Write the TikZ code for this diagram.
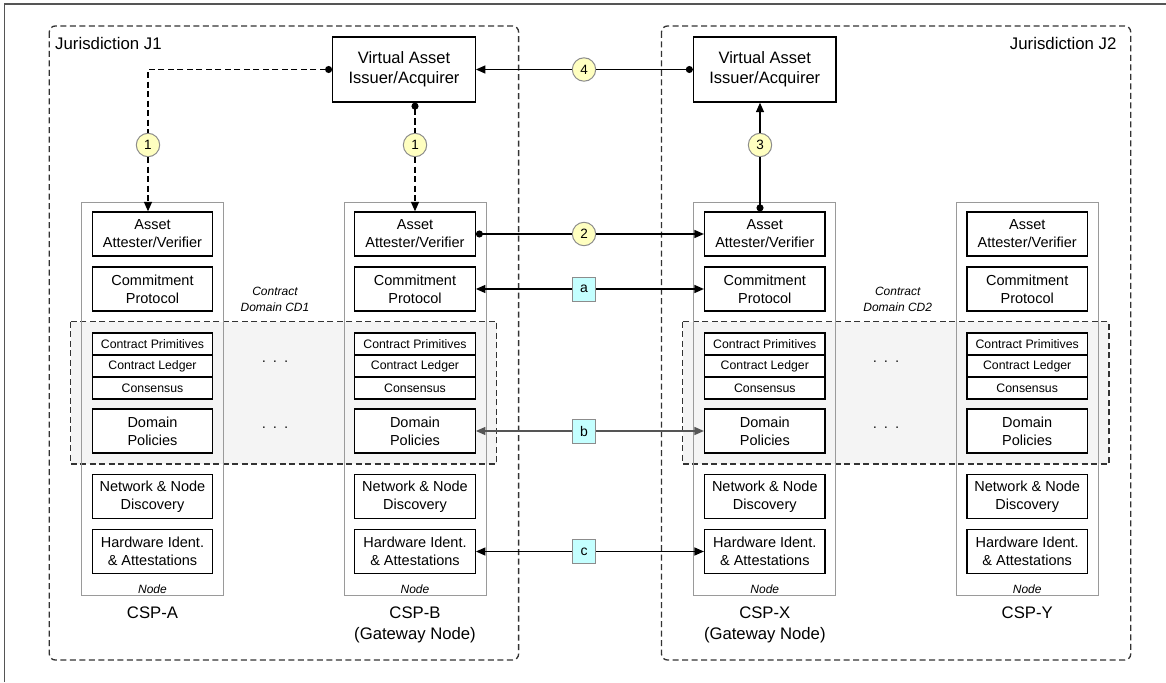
\documentclass[tikz,border=0pt]{standalone}
\usepackage{fontspec}
\setmainfont{Liberation Sans}
\usetikzlibrary{arrows.meta}
\definecolor{circfill}{HTML}{FFFFC0}
\definecolor{labfill}{HTML}{C4FFFF}
\definecolor{edgegray}{HTML}{8C8C8C}
\definecolor{cdfill}{HTML}{F4F4F4}
\definecolor{dashcol}{HTML}{333333}
\definecolor{colgray}{HTML}{9A9A9A}
\definecolor{bgray}{HTML}{555555}
\definecolor{framecol}{HTML}{555555}
\newcommand\fsz[2]{\fontsize{#1}{#2}\selectfont}
\begin{document}
\begin{tikzpicture}[x=1pt,y=-1pt,
  ibox/.style={draw=black, line width=1.3pt, fill=white, minimum width=120.5pt, minimum height=44pt, inner sep=0pt, align=center, font=\fsz{14.5}{18}},
  rbox/.style={ibox, minimum height=22pt, font=\fsz{12.3}{14}},
  vabox/.style={draw=black, line width=1.3pt, fill=white, minimum width=142.5pt, minimum height=65pt, inner sep=0pt, align=center, font=\fsz{16.5}{20}},
  colbox/.style={draw=colgray, line width=1pt, minimum width=142pt, minimum height=393pt, inner sep=0pt},
  nodelbl/.style={font=\fsz{12}{14}\itshape, inner sep=0pt},
  csplbl/.style={font=\fsz{16.7}{21}, align=center, anchor=north, inner sep=0pt},
  circ/.style={circle, draw=edgegray, line width=1pt, fill=circfill, minimum size=23.4pt, inner sep=0pt, font=\fsz{13.5}{14}},
  lab/.style={rectangle, draw=edgegray, line width=1pt, fill=labfill, minimum width=23pt, minimum height=24pt, inner sep=0pt, font=\fsz{14}{14}},
  dashbox/.style={draw=dashcol, line width=1.3pt, dash pattern=on 6pt off 3.5pt},
  conn/.style={line width=1.3pt, draw=black},
  tip/.style={-{Triangle[length=9.5pt,width=8pt]}},
  dotstart/.style={{Circle[length=7pt]}-},
  ddash/.style={dash pattern=on 6pt off 3.5pt},
  dotsfont/.style={font=\fsz{14}{14}, inner sep=0pt},
  cdlbl/.style={font=\fsz{12}{15.3}\itshape, align=center, inner sep=0pt},
  jlbl/.style={font=\fsz{16.8}{20}, inner sep=0pt}
]
\useasboundingbox (0,0) rectangle (1166,682);
% outer frame (top and left edges visible)
\draw[framecol, line width=1.5pt] (4.5,682) -- (4.5,4) -- (1166,4);

% jurisdictions
\draw[dashbox, rounded corners=6pt] (49.3,26) rectangle (518.6,660);
\draw[dashbox, rounded corners=6pt] (661.5,26) rectangle (1130.7,660);
\node[jlbl, anchor=west] (j1) at (55,43.3) {Jurisdiction J1};
\node[jlbl, anchor=east] (j2) at (1116.6,43.3) {Jurisdiction J2};

% contract domains
\draw[dashbox, fill=cdfill] (70.7,321.7) rectangle (496.7,464);
\draw[dashbox, fill=cdfill] (682.7,321.7) rectangle (1109,464);
\node[cdlbl] (cd1) at (275,299.3) {Contract\\Domain CD1};
\node[cdlbl] (cd2) at (897.7,299.3) {Contract\\Domain CD2};
\node[dotsfont] (d1) at (275,363) {·\hspace{6.5pt}·\hspace{6.5pt}·};
\node[dotsfont] (d2) at (275,429) {·\hspace{6.5pt}·\hspace{6.5pt}·};
\node[dotsfont] (d3) at (886,363) {·\hspace{6.5pt}·\hspace{6.5pt}·};
\node[dotsfont] (d4) at (886,429) {·\hspace{6.5pt}·\hspace{6.5pt}·};

% columns
\foreach \c/\cx/\lbl in {A/152.5/{CSP-A}, B/415/{CSP-B\\(Gateway Node)}, X/764.8/{CSP-X\\(Gateway Node)}, Y/1027.2/{CSP-Y}} {
  \node[colbox] (\c col) at (\cx,398.5) {};
  \node[ibox] (\c1) at (\cx,234) {Asset\\Attester/Verifier};
  \node[ibox] (\c2) at (\cx,289) {Commitment\\Protocol};
  \node[rbox] (\c3) at (\cx,344) {Contract Primitives};
  \node[rbox] (\c4) at (\cx,366) {Contract Ledger};
  \node[rbox] (\c5) at (\cx,388) {Consensus};
  \node[ibox] (\c6) at (\cx,431) {Domain\\Policies};
  \node[ibox] (\c7) at (\cx,496.5) {Network \& Node\\Discovery};
  \node[ibox] (\c8) at (\cx,551.5) {Hardware Ident.\\\& Attestations};
  \node[nodelbl] (\c9) at (\cx,589) {Node};
  \node[csplbl] (\c lbl) at (\cx,606.3) {\lbl};
}

% virtual asset issuers
\node[vabox] (VAL) at (404,69.5) {Virtual Asset\\Issuer/Acquirer};
\node[vabox] (VAR) at (764.75,69.5) {Virtual Asset\\Issuer/Acquirer};

% step markers
\node[circ] (n1a) at (148,145) {1};
\node[circ] (n1b) at (415,145) {1};
\node[circ] (n2) at (584,234) {2};
\node[circ] (n3) at (760,145) {3};
\node[circ] (n4) at (584,69.5) {4};
\node[lab] (la) at (584,289) {a};
\node[lab] (lb) at (584,431) {b};
\node[lab] (lc) at (584,551.5) {c};

% connectors
\draw[conn, ddash, dotstart] (VAL.west) -| (n1a.north);
\draw[conn, ddash, tip] (n1a.south) -- (A1.north -| n1a);
\draw[conn, ddash, dotstart] (VAL.south -| n1b) -- (n1b.north);
\draw[conn, ddash, tip] (n1b.south) -- (B1.north);
\draw[conn, dotstart] (B1.east) -- (n2.west);
\draw[conn, tip] (n2.east) -- (X1.west);
\draw[conn, dotstart] (X1.north -| n3) -- (n3.south);
\draw[conn, tip] (n3.north) -- (VAR.south -| n3);
\draw[conn, dotstart] (VAR.west) -- (n4.east);
\draw[conn, tip] (n4.west) -- (VAL.east);
\draw[conn, tip] (la.west) -- (B2.east);
\draw[conn, tip] (la.east) -- (X2.west);
\draw[conn, draw=bgray, tip, bgray] (lb.west) -- (B6.east);
\draw[conn, draw=bgray, tip, bgray] (lb.east) -- (X6.west);
\draw[conn, tip] (lc.west) -- (B8.east);
\draw[conn, tip] (lc.east) -- (X8.west);
\end{tikzpicture}
\end{document}
